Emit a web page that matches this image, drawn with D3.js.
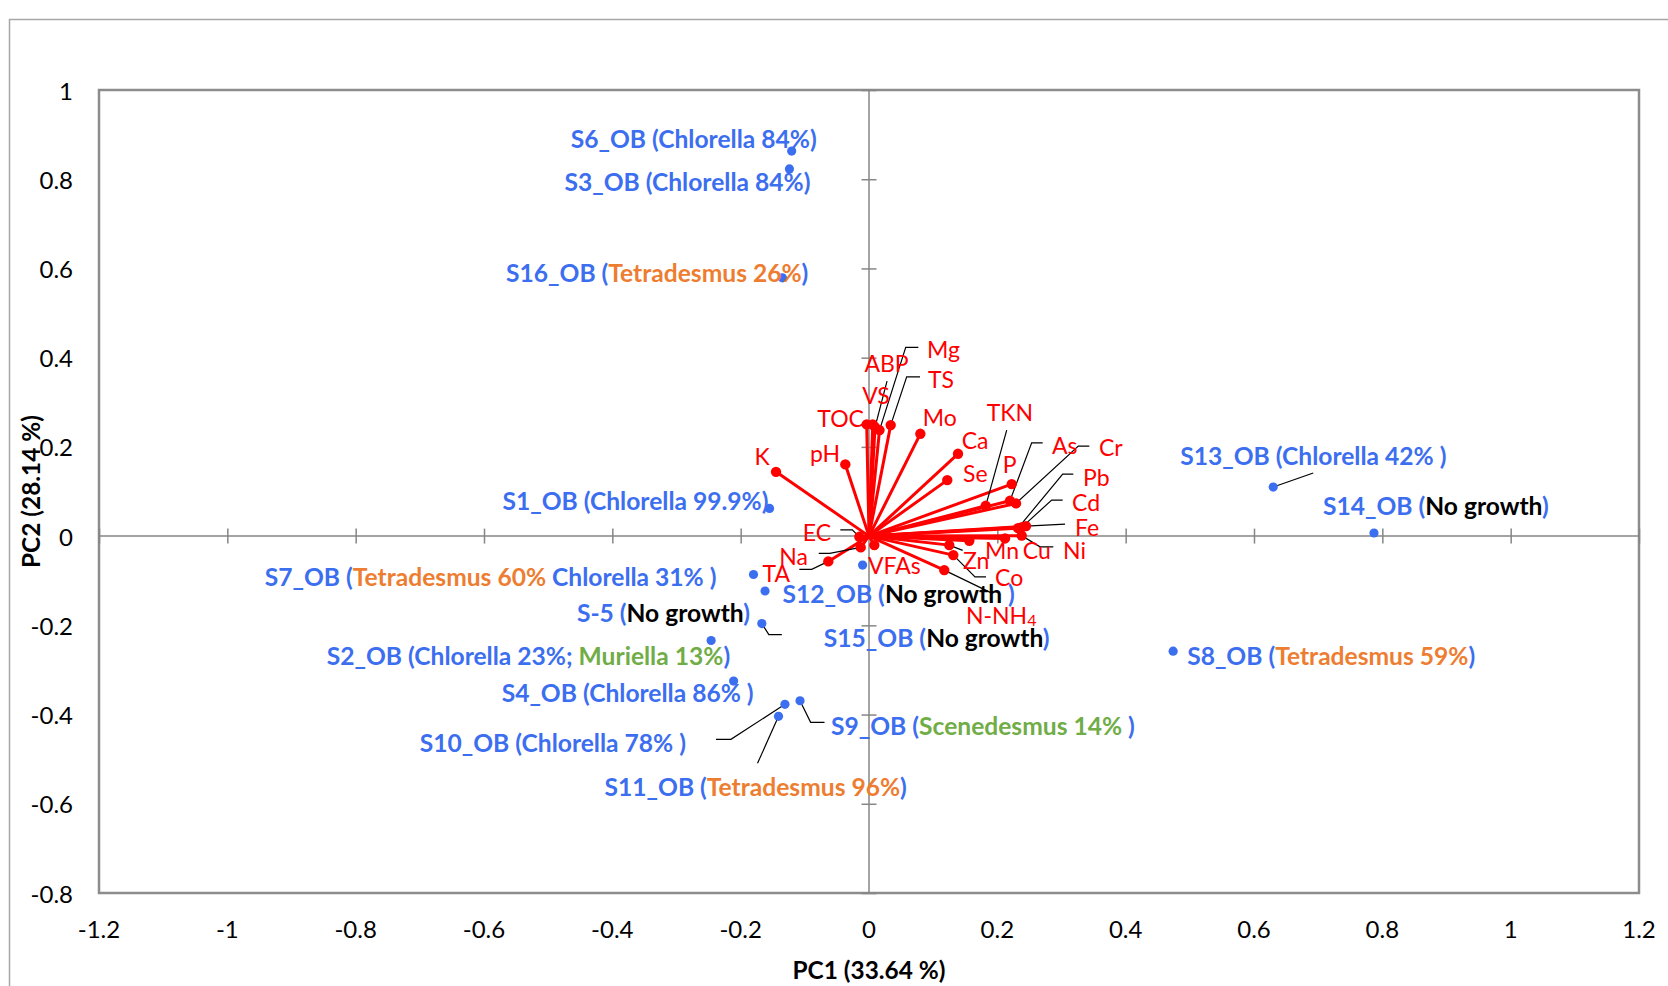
<!DOCTYPE html>
<html>
<head>
<meta charset="utf-8">
<script src="https://cdn.jsdelivr.net/npm/d3@7/dist/d3.min.js"></script>
<style>
  html, body { margin: 0; padding: 0; background: #ffffff; }
  svg { display: block; }
  text { font-family: Lato, "Open Sans", sans-serif; }
</style>
</head>
<body>
<svg id="chart" width="1668" height="986"></svg>
<script>
// ---- PCA biplot data -------------------------------------------------------
const sampleNames = ["S1_OB", "S2_OB", "S3_OB", "S4_OB", "S-5", "S6_OB", "S7_OB", "S8_OB",
  "S9_OB", "S10_OB", "S11_OB", "S12_OB", "S13_OB", "S14_OB", "S15_OB", "S16_OB"];
const samplePC1 = [-0.155, -0.246, -0.124, -0.211, -0.162, -0.1205, -0.180, 0.474,
  -0.1075, -0.131, -0.141, -0.010, 0.630, 0.787, -0.167, -0.135];
const samplePC2 = [0.062, -0.234, 0.823, -0.325, -0.123, 0.863, -0.086, -0.258,
  -0.369, -0.377, -0.404, -0.065, 0.110, 0.007, -0.196, 0.579];

// label text split into parts; the key says which kind of content each part is
const sampleLabelParts = [
  [["S1_OB (Chlorella 99.9%)", "id"]],
  [["S2_OB (Chlorella 23%; ", "id"], ["Muriella 13%", "grn"], [")", "id"]],
  [["S3_OB (Chlorella 84%)", "id"]],
  [["S4_OB (Chlorella 86% )", "id"]],
  [["S-5 (", "id"], ["No growth", "none"], [")", "id"]],
  [["S6_OB (Chlorella 84%)", "id"]],
  [["S7_OB (", "id"], ["Tetradesmus 60%", "tet"], [" Chlorella 31% )", "id"]],
  [["S8_OB (", "id"], ["Tetradesmus 59%", "tet"], [")", "id"]],
  [["S9_OB (", "id"], ["Scenedesmus 14% ", "grn"], [")", "id"]],
  [["S10_OB (Chlorella 78% )", "id"]],
  [["S11_OB (", "id"], ["Tetradesmus 96%", "tet"], [")", "id"]],
  [["S12_OB (", "id"], ["No growth ", "none"], [")", "id"]],
  [["S13_OB (Chlorella 42% )", "id"]],
  [["S14_OB (", "id"], ["No growth", "none"], [")", "id"]],
  [["S15_OB (", "id"], ["No growth", "none"], [")", "id"]],
  [["S16_OB (", "id"], ["Tetradesmus 26%", "tet"], [")", "id"]]
];

const variableNames = ["TOC", "VS", "ABP", "Mg", "TS", "Mo", "Ca", "Se", "P", "TKN", "As", "Cr",
  "Pb", "Cd", "Fe", "Ni", "Cu", "Mn", "Zn", "Co", "N-NH4", "K", "pH", "EC", "Na", "TA", "VFAs"];
const variablePC1 = [-0.0036, 0.0058, 0.0094, 0.0164, 0.0338, 0.080, 0.1387, 0.122, 0.2224, 0.1819,
  0.2197, 0.2291, 0.2322, 0.2384, 0.2447, 0.238, 0.212, 0.1563, 0.1251, 0.1314, 0.1173,
  -0.1449, -0.0369, -0.0151, -0.0129, -0.0634, 0.0083];
const variablePC2 = [0.2504, 0.2504, 0.2443, 0.2376, 0.2488, 0.2293, 0.1845, 0.1255, 0.1166, 0.0679,
  0.0791, 0.0733, 0.0179, 0.0202, 0.0224, 0.0011, -0.0052, -0.0105, -0.0202, -0.0426, -0.0762,
  0.1441, 0.1607, -0.0016, -0.0253, -0.0567, -0.0202];

const xTickValues = [-1.2, -1, -0.8, -0.6, -0.4, -0.2, 0, 0.2, 0.4, 0.6, 0.8, 1, 1.2];
const yTickValues = [-0.8, -0.6, -0.4, -0.2, 0, 0.2, 0.4, 0.6, 0.8, 1];
const xTitle = "PC1 (33.64 %)";
const yTitle = "PC2 (28.14 %)";

// ---- label placement (pixel offsets from each marker) ---------------------
const sampleLabelLayout = [
  { dx: -1, dy: -8, anchor: "end" },
  { dx: 19, dy: 14, anchor: "end" },
  { dx: 21, dy: 12, anchor: "end" },
  { dx: 20, dy: 11, anchor: "end" },
  { dx: -15, dy: 21, anchor: "end" },
  { dx: 25, dy: -13, anchor: "end" },
  { dx: -37, dy: 2, anchor: "end" },
  { dx: 14, dy: 4, anchor: "start" },
  { dx: 31, dy: 24, anchor: "start", leader: [[0, 0], [10.6, 21.6], [24.5, 21.6]] },
  { dx: -99, dy: 37.5, anchor: "end", leader: [[0, 0], [-54, 35], [-69, 35]] },
  { dx: -174, dy: 70, anchor: "start", leader: [[0, 0], [-21, 47]] },
  { dx: -80, dy: 27.5, anchor: "start" },
  { dx: -93, dy: -32, anchor: "start", leader: [[0, 0], [40, -14]] },
  { dx: -51, dy: -28, anchor: "start" },
  { dx: 62, dy: 13, anchor: "start", leader: [[0, 0], [7, 11], [20, 11]] },
  { dx: 26, dy: -6, anchor: "end" }
];

const variableLabelLayout = [
  { dx: -2.7, dy: -6.3, anchor: "end" },                                   // TOC
  { dx: 3.3, dy: -29.3, anchor: "middle" },                                // VS
  { dx: 11.5, dy: -63.7, anchor: "middle", leader: [[0, 0], [12, -46]] },  // ABP
  { dx: 47.5, dy: -80.7, anchor: "start", leader: [[0, 0], [26.2, -82.7], [38.8, -82.7]] }, // Mg
  { dx: 37.3, dy: -46, anchor: "start", leader: [[0, 0], [16, -48.3], [29.3, -48.3]] },    // TS
  { dx: 2.4, dy: -17, anchor: "start" },                                   // Mo
  { dx: 3.7, dy: -13.7, anchor: "start" },                                 // Ca
  { dx: 15.7, dy: -7.3, anchor: "start" },                                 // Se
  { dx: -9, dy: -19.7, anchor: "start" },                                  // P
  { dx: 1, dy: -94, anchor: "start", leader: [[0, 0], [21, -75.7]] },     // TKN
  { dx: 42, dy: -55.7, anchor: "start", leader: [[0, 0], [21.7, -58], [32.7, -58]] },   // As
  { dx: 83, dy: -56.3, anchor: "start", leader: [[0, 0], [62.3, -57.3], [73.3, -57.3]] }, // Cr
  { dx: 65, dy: -51.3, anchor: "start", leader: [[0, 0], [44.7, -54], [55.3, -54]] },  // Pb
  { dx: 50, dy: -25.3, anchor: "start", leader: [[0, 0], [29.7, -27], [40.7, -27]] },  // Cd
  { dx: 49, dy: 0.7, anchor: "start", leader: [[0, 0], [39, -2]] },      // Fe
  { dx: 41.3, dy: 14.5, anchor: "start", leader: [[0, 0], [18.3, 11.2], [31.6, 11.2]] }, // Ni
  { dx: 17.7, dy: 11.7, anchor: "start" },                                 // Cu
  { dx: 15.7, dy: 9.3, anchor: "start" },                                  // Mn
  { dx: 13.7, dy: 15, anchor: "start", leader: [[0, 0], [13.4, 5.3]] },    // Zn
  { dx: 41.7, dy: 21.7, anchor: "start", leader: [[0, 0], [21.7, 21.7], [32.7, 21.7]] }, // Co
  { dx: 21.7, dy: 45, anchor: "start", leader: [[0, 0], [48, 23.3]] },    // N-NH4
  { dx: -14, dy: -15.7, anchor: "middle" },                                // K
  { dx: -5.3, dy: -11, anchor: "end" },                                    // pH
  { dx: -28.3, dy: -5, anchor: "end", leader: [[0, 0], [-7, -7], [-19, -7]] }, // EC
  { dx: -52.7, dy: 8.7, anchor: "end", leader: [[0, 0], [-31, 6], [-42, 6]] }, // Na
  { dx: -38.3, dy: 11.4, anchor: "end", leader: [[0, 0], [-16.6, 8], [-29, 8]] }, // TA
  { dx: -6.3, dy: 20, anchor: "start" }                                    // VFAs
];

const partColor = { id: "#3c6ef0", tet: "#ed7d31", grn: "#70ad47", none: "#000000" };

// ---- scales ---------------------------------------------------------------
const svg = d3.select("#chart");
const plot = { left: 99, right: 1639, top: 90, bottom: 893 };
const x = d3.scaleLinear().domain([-1.2, 1.2]).range([plot.left, plot.right]);
const y = d3.scaleLinear().domain([-0.8, 1]).range([plot.bottom, plot.top]);
// plain hyphen-minus tick text, e.g. "-0.2"
const fmt = d => String(+d.toFixed(1));

// outer chart border
svg.append("path")
  .attr("d", "M9.5,986 V19.5 H1668")
  .attr("fill", "none").attr("stroke", "#a6a6a6").attr("stroke-width", 1.5);

// plot frame
svg.append("rect")
  .attr("x", plot.left).attr("y", plot.top)
  .attr("width", plot.right - plot.left).attr("height", plot.bottom - plot.top)
  .attr("fill", "none").attr("stroke", "#8c8c8c").attr("stroke-width", 2.5);

// zero axes with crossing tick marks
const xAxis = d3.axisBottom(x).tickValues(xTickValues.filter(v => v !== 0))
  .tickSizeInner(15).tickSizeOuter(0).tickFormat("");
svg.append("g").attr("transform", `translate(0,${y(0) - 7.5})`).call(xAxis)
  .call(g => g.select(".domain").remove())
  .call(g => g.selectAll("line").attr("stroke", "#868686").attr("stroke-width", 1.5));
svg.append("line").attr("x1", plot.left).attr("x2", plot.right)
  .attr("y1", y(0)).attr("y2", y(0)).attr("stroke", "#868686").attr("stroke-width", 1.5);

const yAxis = d3.axisRight(y).tickValues(yTickValues.filter(v => v !== 0))
  .tickSizeInner(15).tickSizeOuter(0).tickFormat("");
svg.append("g").attr("transform", `translate(${x(0) - 7.5},0)`).call(yAxis)
  .call(g => g.select(".domain").remove())
  .call(g => g.selectAll("line").attr("stroke", "#868686").attr("stroke-width", 1.5));
svg.append("line").attr("y1", plot.top).attr("y2", plot.bottom)
  .attr("x1", x(0)).attr("x2", x(0)).attr("stroke", "#868686").attr("stroke-width", 1.5);

// tick labels along the bottom and left of the frame
svg.append("g").selectAll("text").data(xTickValues).join("text")
  .attr("x", d => x(d)).attr("y", 928)
  .attr("text-anchor", "middle").attr("dominant-baseline", "central")
  .attr("font-size", 24).attr("fill", "#000")
  .text(d => fmt(d));
svg.append("g").selectAll("text").data(yTickValues).join("text")
  .attr("x", 73).attr("y", d => y(d))
  .attr("text-anchor", "end").attr("dominant-baseline", "central")
  .attr("font-size", 24).attr("fill", "#000")
  .text(d => fmt(d));

// axis titles
svg.append("text").attr("x", x(0)).attr("y", 969)
  .attr("text-anchor", "middle").attr("dominant-baseline", "central")
  .attr("font-size", 24.4).attr("font-weight", "bold").text(xTitle);
svg.append("text")
  .attr("transform", `translate(30,${(plot.top + plot.bottom) / 2}) rotate(-90)`)
  .attr("text-anchor", "middle").attr("dominant-baseline", "central")
  .attr("font-size", 24.4).attr("font-weight", "bold").text(yTitle);

// ---- variable loadings (red vectors) --------------------------------------
const variables = variableNames.map((name, i) => ({
  name, px: x(variablePC1[i]), py: y(variablePC2[i]), lay: variableLabelLayout[i]
}));
const samples = sampleNames.map((name, i) => ({
  name, px: x(samplePC1[i]), py: y(samplePC2[i]), parts: sampleLabelParts[i], lay: sampleLabelLayout[i]
}));

const leaderLine = d3.line();

svg.append("g").selectAll("line").data(variables).join("line")
  .attr("x1", x(0)).attr("y1", y(0))
  .attr("x2", d => d.px).attr("y2", d => d.py)
  .attr("stroke", "#ff0000").attr("stroke-width", 3);

// leader lines
svg.append("g").selectAll("path")
  .data(variables.filter(d => d.lay.leader).concat(samples.filter(d => d.lay.leader)))
  .join("path")
  .attr("d", d => leaderLine(d.lay.leader.map(([a, b]) => [d.px + a, d.py + b])))
  .attr("fill", "none").attr("stroke", "#000").attr("stroke-width", 1.2);

svg.append("g").selectAll("circle").data(variables).join("circle")
  .attr("cx", d => d.px).attr("cy", d => d.py).attr("r", 5.2).attr("fill", "#ff0000");

svg.append("g").selectAll("circle").data(samples).join("circle")
  .attr("cx", d => d.px).attr("cy", d => d.py).attr("r", 4.6).attr("fill", "#3c6ef0");

// variable labels
const vLabels = svg.append("g").selectAll("text").data(variables).join("text")
  .attr("x", d => d.px + d.lay.dx).attr("y", d => d.py + d.lay.dy)
  .attr("text-anchor", d => d.lay.anchor).attr("dominant-baseline", "central")
  .attr("font-size", 23).attr("fill", "#ff0000");
vLabels.each(function (d) {
  const t = d3.select(this);
  const m = d.name.match(/^(.*?)(\d+)$/);
  if (m && d.name.startsWith("N-NH")) {
    t.append("tspan").text(m[1]);
    t.append("tspan").attr("font-size", 16).attr("dy", 4).text(m[2]);
  } else {
    t.text(d.name);
  }
});

// sample labels (multi-coloured)
svg.append("g").selectAll("text").data(samples).join("text")
  .attr("x", d => d.px + d.lay.dx).attr("y", d => d.py + d.lay.dy)
  .attr("text-anchor", d => d.lay.anchor).attr("dominant-baseline", "central")
  .attr("font-size", 24.6).attr("font-weight", "bold")
  .each(function (d) {
    d3.select(this).selectAll("tspan").data(d.parts).join("tspan")
      .attr("fill", p => partColor[p[1]])
      .style("white-space", "pre")
      .text(p => p[0]);
  });
</script>
</body>
</html>
